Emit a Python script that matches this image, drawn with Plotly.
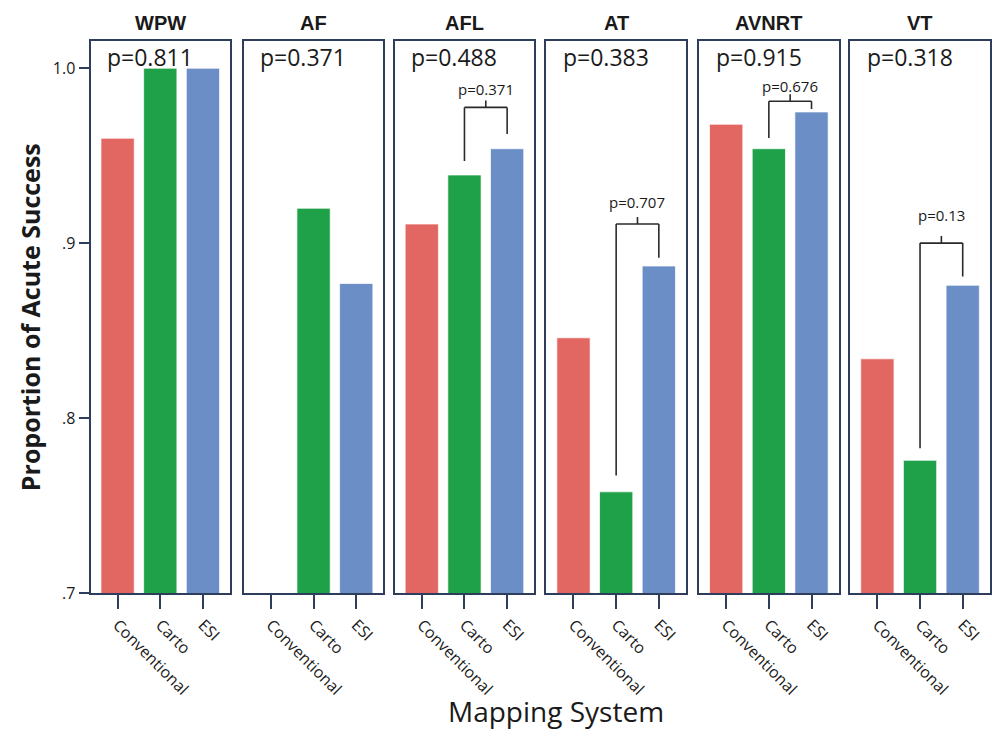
import plotly.graph_objects as go

# ---------------- data ----------------
groups = ["WPW", "AF", "AFL", "AT", "AVNRT", "VT"]
categories = ["Conventional", "Carto", "ESI"]
conventional = [0.960, 0.700, 0.911, 0.846, 0.968, 0.834]
carto = [1.000, 0.920, 0.939, 0.758, 0.954, 0.776]
esi = [1.000, 0.877, 0.954, 0.887, 0.975, 0.876]
overall_p = ["p=0.811", "p=0.371", "p=0.488", "p=0.383", "p=0.915", "p=0.318"]

# pairwise comparison Carto vs ESI
pair_groups = ["AFL", "AT", "AVNRT", "VT"]
pair_p = ["p=0.371", "p=0.707", "p=0.676", "p=0.13"]
pair_top = [0.9776, 0.9110, 0.9811, 0.9001]
pair_left_end = [0.9470, 0.7673, 0.9602, 0.7829]
pair_right_end = [0.9624, 0.8917, 0.9767, 0.8810]
pair_label_y = [0.9883, 0.9236, 0.9900, 0.9161]

y_ticks = [0.7, 0.8, 0.9, 1.0]
y_ticktext = [".7", ".8", ".9", "1.0"]

# ---------------- style ----------------
W, H = 992, 741
colors = ["#E26762", "#1FA14A", "#6B8EC7"]
frame = "#2E3D5C"
txt = "#1a1a1a"
panel_left_px = [90.7, 244.3, 395.5, 547.5, 700.5, 852.0]
panel_w_px = 139.8
y_top_px, y_bot_px = 41.7, 602.3
y_range = [0.7, 1.0155]

fig = go.Figure()
layout = dict(
    width=W, height=H, autosize=False,
    margin=dict(l=0, r=0, t=0, b=0),
    paper_bgcolor="white", plot_bgcolor="white",
    showlegend=False, bargap=0.22,
    font=dict(family="Open Sans", color=txt),
)
annotations = []
shapes = []

for i, g in enumerate(groups):
    n = "" if i == 0 else str(i + 1)
    xa, ya = "x" + n, "y" + n
    fig.add_trace(go.Bar(
        x=categories, y=[conventional[i], carto[i], esi[i]],
        marker=dict(color=colors, line=dict(color="rgba(255,255,255,0.7)", width=1)),
        width=0.78, xaxis=xa, yaxis=ya, hoverinfo="x+y",
    ))
    d0 = panel_left_px[i] / W
    d1 = (panel_left_px[i] + panel_w_px) / W
    layout["xaxis" + n] = dict(
        domain=[d0, d1], anchor=ya, type="category",
        range=[-0.635, 2.635], showline=True, mirror=True,
        linecolor=frame, linewidth=2, showgrid=False, zeroline=False,
        ticks="outside", ticklen=14, tickwidth=2, tickcolor=frame,
        tickangle=45, tickfont=dict(family="Open Sans", size=16, color=txt),
        categoryorder="array", categoryarray=categories,
    )
    layout["yaxis" + n] = dict(
        domain=[1 - y_bot_px / H, 1 - y_top_px / H], anchor=xa,
        range=y_range, showline=True, mirror=True,
        linecolor=frame, linewidth=2, showgrid=False, zeroline=False,
        tickvals=y_ticks, ticktext=y_ticktext,
        ticks="outside" if i == 0 else "", ticklen=10, tickwidth=2, tickcolor=frame,
        showticklabels=(i == 0),
        tickfont=dict(family="Open Sans", size=16, color=txt),
    )
    # panel title
    annotations.append(dict(
        text="<b>" + g + "</b>", xref=xa + " domain", yref="paper",
        x=0.5, y=1 - 23.3 / H, xanchor="center", yanchor="middle",
        showarrow=False, font=dict(family="Liberation Sans", size=20, color=txt),
    ))
    # overall p-value
    annotations.append(dict(
        text=overall_p[i], xref=xa + " domain", yref="paper",
        x=0.105, y=1 - 57.5 / H, xanchor="left", yanchor="middle",
        showarrow=False, font=dict(family="Open Sans", size=23, color=txt),
    ))

# pairwise brackets
for k, g in enumerate(pair_groups):
    i = groups.index(g)
    n = "" if i == 0 else str(i + 1)
    xa, ya = "x" + n, "y" + n
    xl = categories.index("Carto")
    xr = categories.index("ESI")
    xm = (xl + xr) / 2
    line = dict(color="#2a2a2a", width=1.6)
    for (x0, y0, x1, y1) in [
        (xl, pair_left_end[k], xl, pair_top[k]),
        (xl, pair_top[k], xr, pair_top[k]),
        (xr, pair_top[k], xr, pair_right_end[k]),
        (xm, pair_top[k], xm, pair_top[k] + 0.0040),
    ]:
        shapes.append(dict(type="line", xref=xa, yref=ya,
                           x0=x0, y0=y0, x1=x1, y1=y1, line=line))
    annotations.append(dict(
        text=pair_p[k], xref=xa, yref=ya, x=xm, y=pair_label_y[k],
        xanchor="center", yanchor="middle", showarrow=False,
        font=dict(family="Open Sans", size=15, color=txt),
    ))

# axis titles
annotations.append(dict(
    text="<b>Proportion of Acute Success</b>", xref="paper", yref="paper",
    x=30 / W, y=1 - 322 / H, xanchor="center", yanchor="middle", textangle=-90,
    showarrow=False, font=dict(family="Open Sans", size=25, color=txt),
))
annotations.append(dict(
    text="Mapping System", xref="paper", yref="paper",
    x=557 / W, y=1 - 722 / H, xanchor="center", yanchor="middle",
    showarrow=False, font=dict(family="Open Sans", size=28, color=txt),
))

layout["annotations"] = annotations
layout["shapes"] = shapes
fig.update_layout(**layout)

page_css = (
    "var s='margin:0;padding:0;overflow:hidden;width:992px;height:741px;';"
    "document.documentElement.style.cssText=s;"
    "document.body.style.cssText=s;"
    "var gd=document.getElementsByClassName('plotly-graph-div')[0];"
    "gd.style.position='fixed';gd.style.left='0px';gd.style.top='0px';"
)
fig.write_html("out.html", config={"displayModeBar": False}, post_script=page_css)
